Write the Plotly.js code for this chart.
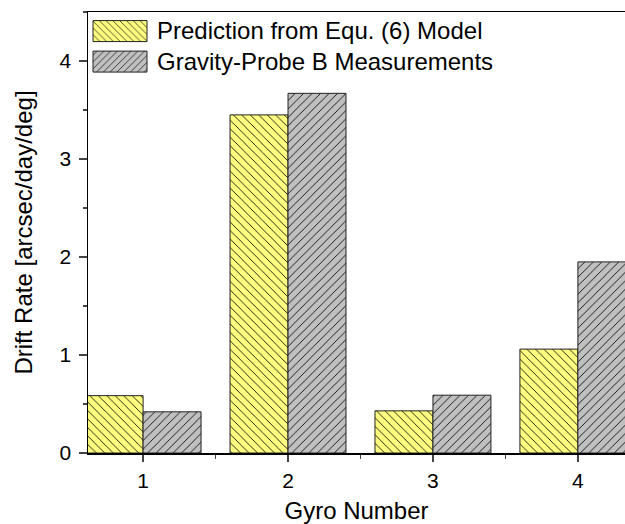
<!DOCTYPE html>
<html><head><meta charset="utf-8">
<script src="https://cdn.plot.ly/plotly-3.0.1.min.js"></script>
<style>html,body{margin:0;padding:0;background:#fff}#chart{width:625px;height:524px}</style>
</head><body><div id="chart"></div>
<script>
const gyros = [1, 2, 3, 4];
const prediction = [0.585, 3.45, 0.43, 1.06];
const measured = [0.42, 3.67, 0.59, 1.95];
const seriesNames = ['Prediction from Equ. (6) Model', 'Gravity-Probe B Measurements'];
const tickLabels = ['1', '2', '3', '4'];

const font = 'Liberation Sans, Arial, sans-serif';
const traces = [
  {type:'bar', x:gyros, y:prediction, name:seriesNames[0], width:0.4, offset:-0.4,
   marker:{color:'#ffff80', line:{color:'#222', width:1},
           pattern:{shape:'\\', fgcolor:'#000', bgcolor:'#ffff80', size:6, solidity:0.14}}},
  {type:'bar', x:gyros, y:measured, name:seriesNames[1], width:0.4, offset:0,
   marker:{color:'#c0c0c0', line:{color:'#222', width:1},
           pattern:{shape:'/', fgcolor:'#000', bgcolor:'#c0c0c0', size:6, solidity:0.14}}}
];
const layout = {
  width:625, height:524,
  margin:{l:88, r:0, t:12, b:71},
  paper_bgcolor:'#fff', plot_bgcolor:'#fff',
  font:{family:font, color:'#000', size:21},
  showlegend:true,
  legend:{x:0.0, y:1.01, xanchor:'left', yanchor:'top', bgcolor:'rgba(0,0,0,0)',
          font:{size:24, family:font}, tracegroupgap:0, itemwidth:59},
  xaxis:{range:[0.62, 4.325], tickvals:gyros, ticktext:tickLabels, ticks:'outside', ticklen:7,
         tickwidth:1.5, showline:true, linewidth:1.5, linecolor:'#000', mirror:true,
         showgrid:false, zeroline:false, ticklabelstandoff:1, tickfont:{size:21, family:font},
         minor:{tick0:0.5, dtick:1, ticks:'outside', ticklen:4, tickwidth:1.5, showgrid:false},
         title:{text:'Gyro Number', font:{size:24, family:font}, standoff:16}},
  yaxis:{range:[0, 4.5], tickvals:[0,1,2,3,4], ticks:'outside', ticklen:8, tickwidth:1.5,
         showline:true, linewidth:1.5, linecolor:'#000', showgrid:false, zeroline:false,
         ticklabelstandoff:3, tickfont:{size:21, family:font},
         minor:{dtick:0.5, ticks:'outside', ticklen:4, tickwidth:1.5, showgrid:false},
         title:{text:'Drift Rate [arcsec/day/deg]', font:{size:24, family:font}, standoff:20}}
};
Plotly.newPlot('chart', traces, layout, {displayModeBar:false, staticPlot:true}).then(gd => {
  const items = Array.from(gd.querySelectorAll('.legend .traces'));
  // tighten row spacing to match the original legend
  if (items.length > 1) {
    const t0 = items[0].getAttribute('transform') || '';
    const m = t0.match(/translate\(([-\d.]+),\s*([-\d.]+)\)/);
    if (m) {
      const x = parseFloat(m[1]), y = parseFloat(m[2]);
      items.forEach((tr, i) => tr.setAttribute('transform', `translate(${x},${y + 30.5 * i})`));
    }
  }
  // enlarge legend keys into wide swatches like the original
  items.forEach(tr => {
    const txt = tr.querySelector('text.legendtext');
    const path = tr.querySelector('.legendpoints path');
    if (!txt || !path) return;
    const r = txt.getBoundingClientRect();
    path.removeAttribute('transform');
    const inv = path.parentNode.getScreenCTM().inverse();
    const cy = r.top + r.height * 0.52;
    const p0 = new DOMPoint(r.left - 64, cy - 10.5).matrixTransform(inv);
    const p1 = new DOMPoint(r.left - 10, cy + 10.5).matrixTransform(inv);
    path.setAttribute('d', `M${p0.x},${p0.y}H${p1.x}V${p1.y}H${p0.x}Z`);
    path.style.strokeWidth = '1px';
  });
});
</script></body></html>
